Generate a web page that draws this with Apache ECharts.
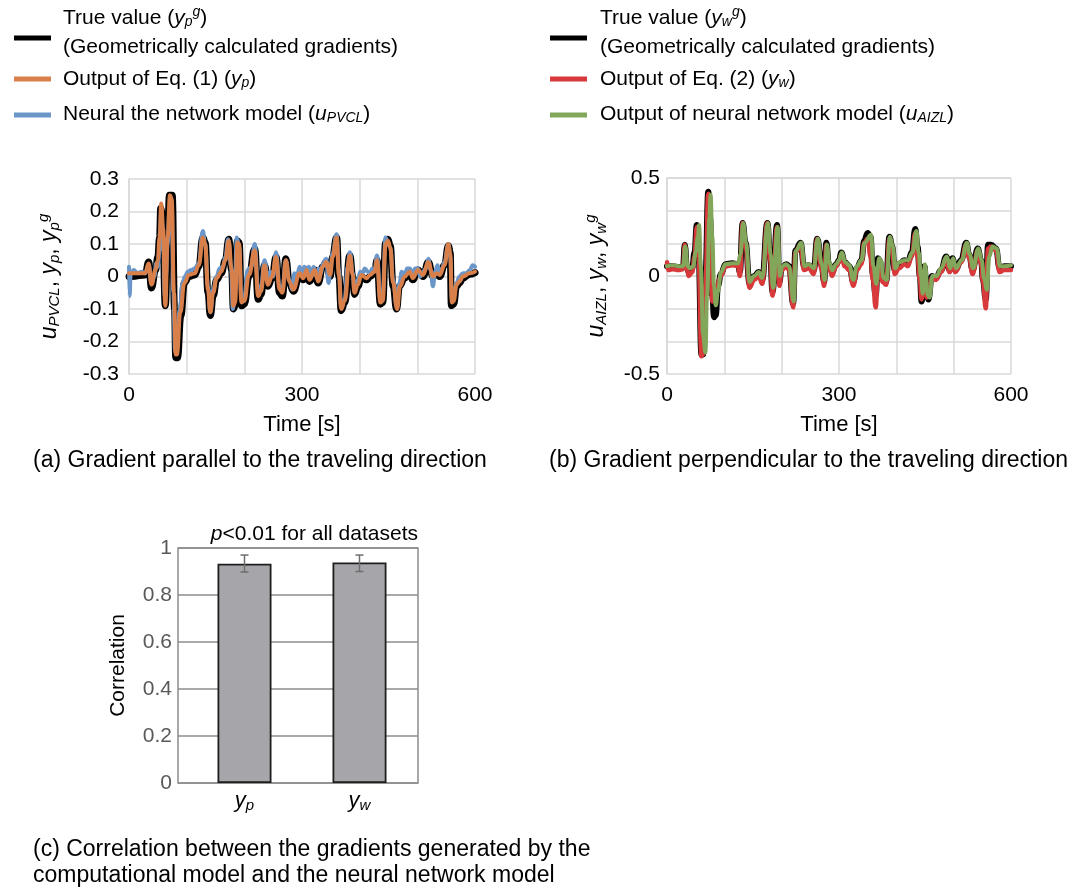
<!DOCTYPE html>
<html><head><meta charset="utf-8">
<script src="https://cdn.jsdelivr.net/npm/echarts@6.0.0/dist/echarts.min.js"></script>
<style>html,body{margin:0;padding:0;background:#fff}#c{width:1084px;height:888px}</style>
</head><body><div id="c"></div>
<script>
// ---------- DATA ----------
// (a) parallel gradient: [time s, value]
const trueP = [[0,0.0],[5,0.0],[28,0.005],[34,0.045],[39,-0.035],[46,0.02],[50,0.06],[53,0.12],[55,0.21],[58,0.19],[63,-0.09],[67,0.1],[70,0.25],[75,0.25],[79,-0.1],[81,-0.25],[84,-0.25],[90,-0.12],[96,-0.02],[104,0.0],[114,0.005],[121,0.03],[128,0.12],[132,0.105],[137,-0.05],[141,-0.12],[146,-0.06],[152,-0.01],[160,0.01],[167,0.05],[173,0.115],[178,0.02],[181,-0.1],[184,-0.09],[188,0.11],[191,0.105],[195,-0.09],[200,-0.085],[208,0.0],[218,0.085],[224,-0.07],[229,-0.055],[235,0.035],[241,-0.03],[248,-0.005],[255,0.06],[261,-0.05],[266,-0.06],[272,0.055],[278,-0.02],[285,-0.045],[296,0.005],[302,-0.01],[308,0.02],[313,-0.015],[322,0.02],[328,-0.02],[336,0.03],[342,0.045],[349,0.0],[353,0.06],[360,0.12],[364,0.0],[368,-0.105],[374,-0.08],[383,0.065],[388,0.0],[391,-0.055],[397,-0.03],[403,0.0],[412,-0.01],[418,0.0],[426,0.01],[430,0.05],[436,-0.085],[440,-0.08],[445,0.105],[449,0.115],[453,0.095],[458,-0.03],[464,-0.1],[469,-0.03],[478,-0.005],[487,0.015],[492,-0.01],[501,0.02],[510,0.0],[519,0.045],[527,0.0],[533,0.01],[539,0.0],[547,0.035],[554,0.095],[557,0.075],[559,-0.09],[563,-0.085],[568,-0.03],[573,-0.02],[579,-0.005],[591,0.007],[600,0.012]];
const eqP = [[0,0.01],[5,0.01],[28,0.01],[34,0.04],[39,-0.025],[46,0.02],[50,0.05],[53,0.12],[56,0.225],[59,0.15],[63,-0.09],[67,0.12],[71,0.25],[74,0.24],[78,-0.05],[81,-0.24],[83,-0.24],[89,-0.11],[96,-0.02],[104,0.005],[114,0.01],[121,0.035],[128,0.12],[132,0.1],[137,-0.04],[141,-0.11],[146,-0.05],[152,-0.005],[160,0.015],[167,0.05],[173,0.11],[178,0.02],[181,-0.09],[184,-0.08],[188,0.105],[191,0.1],[195,-0.08],[200,-0.075],[208,0.005],[218,0.08],[224,-0.06],[229,-0.045],[235,0.035],[241,-0.025],[248,0.0],[255,0.06],[261,-0.04],[266,-0.05],[272,0.05],[278,-0.015],[285,-0.04],[296,0.01],[302,-0.005],[308,0.02],[313,-0.01],[322,0.02],[328,-0.015],[336,0.03],[342,0.045],[349,0.005],[353,0.06],[360,0.12],[364,0.005],[368,-0.1],[374,-0.075],[383,0.065],[388,0.005],[391,-0.05],[397,-0.025],[403,0.005],[412,-0.005],[418,0.005],[426,0.015],[430,0.05],[436,-0.08],[440,-0.075],[445,0.1],[449,0.11],[453,0.09],[458,-0.02],[465,-0.1],[470,-0.03],[478,0.0],[487,0.015],[492,-0.005],[501,0.02],[510,0.005],[519,0.045],[527,0.0],[533,0.01],[539,0.005],[547,0.035],[554,0.1],[557,0.07],[560,-0.08],[563,-0.075],[568,-0.025],[573,-0.015],[579,0.0],[591,0.01],[600,0.015]];
const nnP = [[0,0.03],[1,-0.06],[3,0.01],[8,0.02],[15,0.01],[22,0.015],[28,0.01],[34,0.035],[39,-0.02],[44,0.0],[47,0.04],[50,0.03],[53,0.08],[56,0.2],[59,0.13],[62,-0.06],[64,0.0],[67,0.1],[70,0.2],[74,0.22],[77,-0.05],[80,-0.23],[83,-0.2],[88,-0.1],[93,-0.02],[97,0.0],[102,0.015],[108,0.02],[114,0.025],[121,0.04],[128,0.14],[132,0.1],[137,-0.03],[141,-0.11],[146,-0.04],[152,0.0],[157,0.025],[163,0.03],[167,0.06],[172,0.115],[177,0.03],[180,-0.1],[183,-0.06],[187,0.12],[191,0.09],[195,-0.07],[200,-0.06],[206,0.02],[212,0.03],[218,0.1],[224,-0.04],[229,-0.03],[235,0.05],[241,-0.01],[245,0.015],[250,0.0],[255,0.075],[261,-0.03],[266,-0.04],[272,0.05],[278,-0.01],[283,-0.04],[287,0.01],[291,0.0],[296,0.03],[300,0.005],[304,0.03],[308,0.015],[312,0.03],[316,0.0],[320,0.03],[325,0.0],[329,0.025],[333,0.01],[336,0.04],[342,0.055],[346,-0.02],[349,0.015],[353,0.07],[360,0.13],[364,0.02],[368,-0.095],[374,-0.07],[379,0.03],[383,0.075],[388,0.01],[391,-0.045],[397,-0.01],[401,0.015],[405,0.01],[409,0.025],[414,0.015],[418,0.01],[422,0.025],[426,0.02],[430,0.065],[436,-0.07],[440,-0.05],[445,0.12],[449,0.1],[453,0.09],[458,-0.01],[464,-0.09],[469,-0.02],[473,0.015],[478,0.0],[482,0.025],[487,0.025],[492,0.005],[496,0.025],[501,0.025],[505,0.0],[510,0.015],[515,0.025],[519,0.055],[523,0.02],[527,-0.03],[531,0.015],[535,0.035],[539,0.01],[543,0.025],[547,0.045],[554,0.1],[557,0.06],[560,-0.07],[563,-0.06],[568,-0.02],[573,0.0],[579,0.01],[585,0.01],[591,0.02],[596,0.035],[600,0.03]];
// (b) perpendicular gradient: [time s, value]
const trueW = [[0,0.05],[10,0.05],[20,0.045],[28,0.05],[31,0.16],[35,0.04],[38,0.02],[44,0.04],[48,0.12],[52,0.26],[55,0.12],[60,-0.4],[63,-0.4],[67,0.0],[72,0.43],[75,0.3],[79,-0.1],[82,-0.21],[85,-0.2],[89,-0.05],[94,0.01],[102,0.06],[114,0.065],[124,0.06],[127,0.02],[132,0.27],[137,0.17],[144,-0.04],[152,0.0],[160,0.02],[166,-0.02],[175,0.27],[180,0.1],[184,-0.08],[192,0.26],[196,-0.03],[200,0.04],[208,0.06],[213,0.05],[220,-0.14],[224,0.13],[233,0.17],[239,0.05],[247,0.055],[256,0.03],[262,0.19],[270,0.05],[274,-0.03],[278,0.17],[282,0.065],[288,0.02],[295,0.06],[300,0.08],[304,0.12],[310,0.07],[318,0.05],[325,-0.03],[331,0.04],[339,0.08],[344,0.18],[350,0.22],[355,0.2],[359,0.01],[364,-0.1],[368,0.09],[371,0.08],[376,-0.02],[382,-0.03],[388,0.2],[393,0.15],[397,0.03],[405,0.06],[414,0.08],[420,0.07],[427,0.12],[433,0.24],[437,0.15],[441,0.0],[444,-0.13],[449,0.05],[453,-0.1],[456,-0.12],[462,0.0],[469,-0.01],[478,0.03],[487,0.1],[493,0.03],[498,0.09],[503,0.03],[513,0.08],[522,0.17],[527,0.11],[533,0.03],[542,0.14],[548,0.08],[551,-0.02],[556,-0.12],[560,0.16],[565,0.16],[574,0.14],[580,0.04],[588,0.05],[600,0.05]];
const eqW = [[0,0.07],[2,0.03],[10,0.035],[20,0.03],[28,0.035],[31,0.16],[35,0.03],[38,0.0],[44,0.02],[48,0.1],[52,0.25],[55,0.1],[60,-0.41],[63,-0.4],[67,-0.05],[72,0.42],[75,0.25],[79,-0.13],[82,-0.1],[87,-0.05],[94,0.0],[102,0.05],[114,0.055],[124,0.05],[127,0.0],[132,0.27],[137,0.15],[144,-0.06],[152,-0.02],[160,0.0],[166,-0.04],[175,0.27],[180,0.08],[184,-0.1],[192,0.25],[196,-0.05],[200,0.03],[208,0.05],[213,0.03],[220,-0.16],[224,0.12],[233,0.16],[239,0.03],[247,0.04],[256,0.01],[262,0.19],[270,0.03],[274,-0.05],[278,0.16],[282,0.05],[288,0.0],[295,0.05],[300,0.07],[304,0.11],[310,0.05],[318,0.03],[325,-0.05],[331,0.03],[339,0.06],[344,0.17],[350,0.19],[355,0.1],[359,-0.02],[364,-0.16],[368,0.03],[371,0.06],[376,-0.03],[382,-0.045],[388,0.19],[393,0.13],[397,0.01],[405,0.04],[414,0.06],[420,0.05],[427,0.1],[433,0.22],[437,0.1],[441,-0.02],[444,-0.12],[449,0.03],[453,-0.11],[456,-0.1],[462,-0.01],[469,-0.02],[478,0.02],[487,0.09],[493,0.02],[498,0.08],[503,0.02],[513,0.07],[522,0.16],[527,0.09],[533,0.01],[542,0.13],[548,0.06],[551,-0.03],[556,-0.165],[560,0.14],[565,0.15],[574,0.13],[580,0.02],[588,0.03],[600,0.03]];
const nnW = [[0,0.05],[10,0.055],[20,0.05],[28,0.05],[32,0.15],[36,0.05],[40,0.04],[46,0.05],[50,0.12],[54,0.2],[56,0.26],[59,0.05],[63,-0.3],[67,-0.39],[70,-0.1],[74,0.3],[76,0.415],[79,0.2],[82,-0.05],[85,-0.15],[89,-0.08],[94,0.02],[102,0.06],[114,0.065],[124,0.065],[128,0.11],[133,0.27],[138,0.17],[144,-0.03],[152,0.0],[160,0.02],[166,-0.01],[176,0.27],[181,0.11],[185,-0.06],[193,0.25],[197,0.0],[201,0.05],[208,0.06],[213,0.05],[221,-0.13],[225,0.13],[234,0.17],[240,0.05],[247,0.06],[256,0.04],[263,0.19],[270,0.06],[275,-0.02],[279,0.16],[283,0.07],[288,0.03],[295,0.06],[300,0.08],[305,0.12],[311,0.07],[318,0.055],[325,-0.02],[331,0.05],[339,0.08],[345,0.17],[356,0.21],[360,0.05],[365,-0.04],[370,0.09],[373,0.08],[378,-0.01],[383,-0.02],[389,0.2],[394,0.15],[398,0.04],[405,0.07],[414,0.08],[420,0.08],[428,0.12],[435,0.23],[439,0.12],[443,0.0],[446,-0.09],[450,0.06],[455,-0.1],[458,-0.11],[463,0.0],[470,0.0],[478,0.04],[488,0.1],[494,0.04],[499,0.09],[504,0.04],[514,0.08],[523,0.17],[528,0.11],[534,0.04],[543,0.14],[549,0.08],[553,-0.01],[558,-0.07],[562,0.1],[568,0.15],[575,0.14],[581,0.05],[588,0.05],[600,0.055]];
// (c) correlation
const corrCats = ['yp', 'yw'];
const corrVals = [0.933, 0.938];
const corrErrLow = [0.898, 0.900];
const corrErrHigh = [0.970, 0.970];
const timeTicks = [0, 300, 600];

// ---------- STYLE ----------
const FONT = 'Liberation Sans, Arial, sans-serif';
const GRIDC = '#d9d9d9';
const C_ORANGE = '#d9804a', C_BLUE = '#6b96c9', C_RED = '#d8393a', C_GREEN = '#82a75a';

function rich(fs) {
  const sub = Math.round(fs * 0.66);
  return {
    n: { fontSize: fs, fontFamily: FONT, color: '#000' },
    i: { fontSize: fs, fontFamily: FONT, fontStyle: 'italic', color: '#000' },
    sb: { fontSize: sub, fontFamily: FONT, fontStyle: 'italic', color: '#000', padding: [Math.round(fs*0.45), 0, 0, 0] },
    sp: { fontSize: sub, fontFamily: FONT, fontStyle: 'italic', color: '#000', padding: [0, 0, Math.round(fs*0.5), 0] }
  };
}

const chart = echarts.init(document.getElementById('c'), null, { renderer: 'canvas' });

function valueX(gridIndex) {
  return {
    type: 'value', gridIndex, min: 0, max: 600, interval: 100,
    axisLine: { lineStyle: { color: GRIDC, width: 1.5 } },
    axisTick: { show: false },
    splitLine: { lineStyle: { color: GRIDC, width: 1.5 } },
    axisLabel: { fontSize: 21, fontFamily: FONT, color: '#000', margin: 11,
      formatter: v => timeTicks.indexOf(v) >= 0 ? String(v) : '' },
    name: 'Time [s]', nameLocation: 'middle', nameGap: 40,
    nameTextStyle: { fontSize: 22, fontFamily: FONT, color: '#000' }
  };
}

function lineSeries(xi, data, color, width, z) {
  return { type: 'line', xAxisIndex: xi, yAxisIndex: xi, data, showSymbol: false, symbol: 'none',
    smooth: 0.45, smoothMonotone: 'x', lineStyle: { color, width, join: 'round', cap: 'round' }, z, silent: true };
}

const lgR = rich(21);
function legText(x, y, text) {
  return { type: 'text', x, y, style: { text, rich: lgR, fontSize: 21, fontFamily: FONT, fill: '#000',
    textVerticalAlign: 'middle', textAlign: 'left' } };
}
function legLine(x1, x2, y, color) {
  return { type: 'line', shape: { x1, y1: y, x2, y2: y }, style: { stroke: color, lineWidth: 5 } };
}
function caption(x, y, text) {
  return { type: 'text', x, y, style: { text, fontSize: 23, fontFamily: FONT, fill: '#000', textVerticalAlign: 'middle', textAlign: 'left' } };
}

const option = {
  animation: false,
  backgroundColor: '#fff',
  grid: [
    { left: 129, top: 179, width: 346, height: 195 },
    { left: 667, top: 178, width: 344, height: 196 },
    { left: 178, top: 548, width: 240, height: 235, show: true, borderColor: '#8c8c8c', borderWidth: 1.5 },
    { left: 187, top: 548, width: 230, height: 235 }
  ],
  xAxis: [
    valueX(0),
    valueX(1),
    { type: 'category', gridIndex: 2, data: corrCats, show: false },
    { type: 'category', gridIndex: 3, data: corrCats,
      axisLine: { show: false }, axisTick: { show: false },
      axisLabel: { margin: 5, formatter: v => '{i|y}{sb|' + v.charAt(1) + '}', rich: rich(22) } }
  ],
  yAxis: [
    { type: 'value', gridIndex: 0, min: -0.3, max: 0.3, interval: 0.1,
      axisLine: { show: true, lineStyle: { color: GRIDC, width: 1.5 } }, axisTick: { show: false },
      splitLine: { lineStyle: { color: GRIDC, width: 1.5 } },
      axisLabel: { fontSize: 21, fontFamily: FONT, color: '#000', margin: 10,
        formatter: v => String(+v.toFixed(1)) },
      name: '{i|u}{sb|PVCL}{n|, }{i|y}{sb|p}{n|, }{i|y}{sb|p}{sp|g}', nameLocation: 'middle', nameGap: 66, nameRotate: 90,
      nameTextStyle: { rich: rich(23) } },
    { type: 'value', gridIndex: 1, min: -0.5, max: 0.5, interval: 1/6,
      axisLine: { show: true, lineStyle: { color: GRIDC, width: 1.5 } }, axisTick: { show: false },
      splitLine: { lineStyle: { color: GRIDC, width: 1.5 } },
      axisLabel: { fontSize: 21, fontFamily: FONT, color: '#000', margin: 7,
        formatter: v => Math.abs(v - 0.5) < 1e-6 ? '0.5' : (Math.abs(v) < 1e-6 ? '0' : (Math.abs(v + 0.5) < 1e-6 ? '-0.5' : '')) },
      name: '{i|u}{sb|AIZL}{n|, }{i|y}{sb|w}{n|, }{i|y}{sb|w}{sp|g}', nameLocation: 'middle', nameGap: 57, nameRotate: 90,
      nameTextStyle: { rich: rich(23) } },
    { type: 'value', gridIndex: 2, min: 0, max: 1, interval: 0.2,
      axisLine: { show: false }, axisTick: { show: false },
      splitLine: { lineStyle: { color: '#8c8c8c', width: 1.5 } },
      axisLabel: { fontSize: 21, fontFamily: FONT, color: '#595959', margin: 6 },
      name: 'Correlation', nameLocation: 'middle', nameGap: 49, nameRotate: 90,
      nameTextStyle: { fontSize: 21, fontFamily: FONT, color: '#000' } },
    { type: 'value', gridIndex: 3, min: 0, max: 1, interval: 0.2, show: false, splitLine: { show: false } }
  ],
  series: [
    lineSeries(0, trueP, '#000', 7, 2),
    lineSeries(0, nnP, C_BLUE, 4, 3),
    lineSeries(0, eqP, C_ORANGE, 4, 4),
    lineSeries(1, trueW, '#000', 6, 2),
    lineSeries(1, eqW, C_RED, 4.5, 3),
    lineSeries(1, nnW, C_GREEN, 4, 4),
    { type: 'bar', xAxisIndex: 3, yAxisIndex: 3, data: corrVals, barWidth: 54,
      itemStyle: { color: '#a6a5a9', borderColor: '#1e1e1e', borderWidth: 1.8 }, z: 2, silent: true },
    { type: 'custom', xAxisIndex: 3, yAxisIndex: 3, z: 3, silent: true,
      data: corrCats.map((c, k) => [k, corrErrLow[k], corrErrHigh[k]]),
      renderItem: (params, api) => {
        const lo = api.coord([api.value(0), api.value(1)]);
        const hi = api.coord([api.value(0), api.value(2)]);
        const st = { stroke: '#6d6d6d', lineWidth: 1.5 };
        return { type: 'group', children: [
          { type: 'line', shape: { x1: lo[0], y1: lo[1], x2: hi[0], y2: hi[1] }, style: st },
          { type: 'line', shape: { x1: lo[0] - 4, y1: lo[1], x2: lo[0] + 4, y2: lo[1] }, style: st },
          { type: 'line', shape: { x1: hi[0] - 4, y1: hi[1], x2: hi[0] + 4, y2: hi[1] }, style: st }
        ] };
      } }
  ],
  graphic: [
    legLine(14, 51, 38, '#000'),
    legText(63, 18, 'True value ({i|y}{sb|p}{sp|g})'),
    legText(63, 47, '(Geometrically calculated gradients)'),
    legLine(14, 51, 79, C_ORANGE),
    legText(63, 79, 'Output of Eq. (1) ({i|y}{sb|p})'),
    legLine(14, 51, 115, C_BLUE),
    legText(63, 114, 'Neural the network model ({i|u}{sb|PVCL})'),
    legLine(550, 587, 38, '#000'),
    legText(600, 18, 'True value ({i|y}{sb|w}{sp|g})'),
    legText(600, 47, '(Geometrically calculated gradients)'),
    legLine(550, 587, 79, C_RED),
    legText(600, 79, 'Output of Eq. (2) ({i|y}{sb|w})'),
    legLine(550, 587, 115, C_GREEN),
    legText(600, 114, 'Output of neural network model ({i|u}{sb|AIZL})'),
    { type: 'text', x: 418, y: 534, style: { text: '{i|p}<0.01 for all datasets', rich: rich(21), fontSize: 21, fontFamily: FONT, fill: '#000', textAlign: 'right', textVerticalAlign: 'middle' } },
    caption(33, 461, '(a) Gradient parallel to the traveling direction'),
    caption(549, 461, '(b) Gradient perpendicular to the traveling direction'),
    caption(33, 850, '(c) Correlation between the gradients generated by the'),
    caption(33, 876, 'computational model and the neural network model')
  ]
};
chart.setOption(option);
</script></body></html>
